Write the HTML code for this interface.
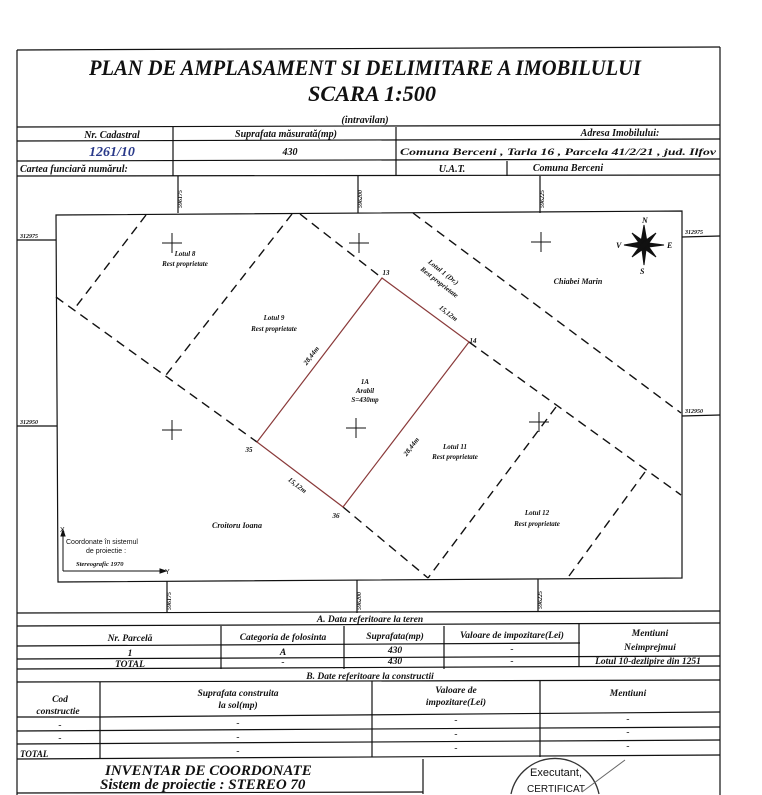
<!DOCTYPE html>
<html><head><meta charset="utf-8"><style>
html,body{margin:0;padding:0;background:#fff;width:762px;height:795px;overflow:hidden;}
svg{display:block;overflow:hidden;}
text{font-family:"Liberation Serif",serif;font-style:italic;font-weight:bold;fill:#111;}
.s{font-family:"Liberation Sans",sans-serif;font-style:normal;font-weight:normal;}
</style></head><body>
<svg width="762" height="795" viewBox="0 0 762 795" xmlns="http://www.w3.org/2000/svg">
<rect width="762" height="795" fill="#fff"/>
<g stroke="#111" stroke-width="1.2" fill="none">
<line x1="17" y1="50" x2="720" y2="47"/>
<line x1="17" y1="50" x2="17" y2="795"/>
<line x1="720" y1="47" x2="720" y2="795"/>
<line x1="17" y1="127" x2="720" y2="125"/>
<line x1="17" y1="141" x2="720" y2="139"/>
<line x1="17" y1="161" x2="720" y2="159"/>
<line x1="17" y1="176" x2="720" y2="175"/>
<line x1="173" y1="127" x2="173" y2="176"/>
<line x1="396" y1="127" x2="396" y2="176"/>
<line x1="507" y1="161" x2="507" y2="176"/>
<line x1="178" y1="176" x2="178" y2="213"/>
<line x1="358" y1="176" x2="358" y2="213"/>
<line x1="540" y1="176" x2="540" y2="213"/>
<polygon points="56,215 682,211 682,578 58,582"/>
<line x1="17" y1="240" x2="56" y2="240"/>
<line x1="17" y1="426" x2="57" y2="426"/>
<line x1="682" y1="237" x2="720" y2="236"/>
<line x1="682" y1="416" x2="720" y2="415"/>
<line x1="167" y1="581" x2="167" y2="613"/>
<line x1="357" y1="580" x2="357" y2="613"/>
<line x1="538" y1="579" x2="538" y2="612"/>
</g>
<g stroke="#111" stroke-width="1.4" fill="none" stroke-dasharray="9,6">
<line x1="146" y1="215" x2="75" y2="308"/>
<line x1="56" y1="297" x2="257" y2="442"/>
<line x1="343" y1="507" x2="428" y2="578"/>
<line x1="292" y1="214" x2="166" y2="375"/>
<line x1="300" y1="214" x2="382" y2="278"/>
<line x1="469" y1="342" x2="681" y2="495"/>
<line x1="413" y1="213" x2="681" y2="413"/>
<line x1="556" y1="407" x2="428" y2="578"/>
<line x1="645" y1="472" x2="569" y2="576"/>
</g>
<polygon points="382,278 469,342 343,507 257,442" fill="none" stroke="#8a3a3a" stroke-width="1.2"/>
<g stroke="#111" stroke-width="1">
<path d="M162 243h20M172 233v20"/><path d="M349 243h20M359 233v20"/><path d="M531 242h20M541 232v20"/>
<path d="M162 430h20M172 420v20"/><path d="M346 428h20M356 418v20"/><path d="M529 422h20M539 412v20"/>
</g>
<g fill="#111" stroke="#111" stroke-width="1">
<polygon points="644,225 647,242 644,265 641,242"/>
<polygon points="624,245 641,242 664,245 641,248"/>
<polygon points="632,233 646,243 656,257 642,247"/>
<polygon points="656,233 646,247 632,257 642,243"/>
</g>
<text x="642" y="223" font-size="8">N</text><text x="616" y="248" font-size="8">V</text><text x="667" y="248" font-size="8">E</text><text x="640" y="274" font-size="8">S</text>
<text x="365" y="75" font-size="22" text-anchor="middle" textLength="552" lengthAdjust="spacingAndGlyphs">PLAN DE AMPLASAMENT SI DELIMITARE A IMOBILULUI</text>
<text x="372" y="101" font-size="22" text-anchor="middle" textLength="128" lengthAdjust="spacingAndGlyphs">SCARA 1:500</text>
<text x="365" y="123" font-size="10" text-anchor="middle">(intravilan)</text>
<text x="112" y="138" font-size="10" text-anchor="middle">Nr. Cadastral</text>
<text x="286" y="137" font-size="10" text-anchor="middle">Suprafata măsurată(mp)</text>
<text x="620" y="136" font-size="10" text-anchor="middle">Adresa Imobilului:</text>
<text x="112" y="156" font-size="14" font-weight="normal" text-anchor="middle" style="fill:#2a3a8a">1261/10</text>
<text x="290" y="155" font-size="10" text-anchor="middle">430</text>
<text x="558" y="155" font-size="9.5" text-anchor="middle" textLength="316" lengthAdjust="spacingAndGlyphs">Comuna Berceni , Tarla 16 , Parcela 41/2/21 , jud. Ilfov</text>
<text x="20" y="172" font-size="10">Cartea funciară numărul:</text>
<text x="452" y="172" font-size="10" text-anchor="middle">U.A.T.</text>
<text x="568" y="171" font-size="10" text-anchor="middle">Comuna Berceni</text>
<g font-size="6">
<text transform="translate(182,208) rotate(-90)">596175</text>
<text transform="translate(362,208) rotate(-90)">596200</text>
<text transform="translate(544,208) rotate(-90)">596225</text>
<text transform="translate(171,610) rotate(-90)">596175</text>
<text transform="translate(361,610) rotate(-90)">596200</text>
<text transform="translate(542,609) rotate(-90)">596225</text>
<text x="20" y="238">312975</text><text x="20" y="424">312950</text>
<text x="685" y="234">312975</text><text x="685" y="413">312950</text>
</g>
<g font-size="7" text-anchor="middle">
<text x="185" y="256">Lotul 8</text><text x="185" y="266">Rest proprietate</text>
<text x="274" y="320">Lotul 9</text><text x="274" y="331">Rest proprietate</text>
<text x="365" y="384">1A</text><text x="365" y="393">Arabil</text><text x="365" y="402">S=430mp</text>
<text x="455" y="449">Lotul 11</text><text x="455" y="459">Rest proprietate</text>
<text x="537" y="515">Lotul 12</text><text x="537" y="526">Rest proprietate</text>
<text x="578" y="284" font-size="8">Chiabei Marin</text>
<text x="237" y="528" font-size="8">Croitoru Ioana</text>
<text transform="translate(442,274) rotate(38)">Lotul 1 (Dr.)</text>
<text transform="translate(438,284) rotate(38)">Rest proprietate</text>
<text transform="translate(447,315) rotate(38)">15,12m</text>
<text transform="translate(296,487) rotate(38)">15,12m</text>
<text transform="translate(313,357) rotate(-53)">28,44m</text>
<text transform="translate(413,448) rotate(-53)">28,44m</text>
<text x="386" y="275">13</text><text x="473" y="343">14</text><text x="249" y="452">35</text><text x="336" y="518">36</text>
</g>
<g stroke="#111" stroke-width="1" fill="#111">
<line x1="63" y1="534" x2="63" y2="571"/><line x1="63" y1="571" x2="162" y2="571"/>
<polygon points="63,530 61,536 65,536"/><polygon points="166,571 160,569 160,573"/>
</g>
<text x="60" y="532" class="s" font-size="7">X</text><text x="165" y="574" class="s" font-size="7">Y</text>
<text x="66" y="544" class="s" font-size="7">Coordonate în sistemul</text>
<text x="86" y="553" class="s" font-size="7">de proiectie :</text>
<text x="76" y="566" font-size="6.5">Stereografic 1970</text>
<g stroke="#111" stroke-width="1.2" fill="none">
<line x1="17" y1="613" x2="720" y2="611"/>
<line x1="17" y1="626" x2="720" y2="623"/>
<line x1="17" y1="646" x2="580" y2="643"/>
<line x1="17" y1="659" x2="720" y2="656"/>
<line x1="17" y1="669" x2="720" y2="666"/>
<line x1="17" y1="682" x2="720" y2="680"/>
<line x1="100" y1="717" x2="720" y2="712"/>
<line x1="17" y1="717" x2="100" y2="717"/>
<line x1="17" y1="731" x2="720" y2="727"/>
<line x1="17" y1="744" x2="720" y2="740"/>
<line x1="17" y1="759" x2="720" y2="755"/>
<line x1="221" y1="626" x2="221" y2="669"/>
<line x1="344" y1="626" x2="344" y2="669"/>
<line x1="444" y1="626" x2="444" y2="669"/>
<line x1="579" y1="623" x2="579" y2="666"/>
<line x1="100" y1="682" x2="100" y2="759"/>
<line x1="372" y1="681" x2="372" y2="757"/>
<line x1="540" y1="680" x2="540" y2="757"/>
<line x1="423" y1="759" x2="423" y2="794"/>
<line x1="17" y1="793" x2="423" y2="792"/>
</g>
<g font-size="9.5" text-anchor="middle">
<text x="370" y="622">A. Data referitoare la teren</text>
<text x="130" y="641">Nr. Parcelă</text><text x="283" y="640">Categoria de folosinta</text>
<text x="395" y="639">Suprafata(mp)</text><text x="512" y="638">Valoare de impozitare(Lei)</text>
<text x="650" y="636">Mentiuni</text>
<text x="130" y="656">1</text><text x="283" y="655">A</text><text x="395" y="653">430</text><text x="512" y="652">-</text>
<text x="650" y="650">Neimprejmui</text><text x="648" y="664">Lotul 10-dezlipire din 1251</text>
<text x="130" y="667">TOTAL</text><text x="283" y="665">-</text><text x="395" y="664">430</text><text x="512" y="664">-</text>
<text x="370" y="679">B. Date referitoare la constructii</text>
<text x="60" y="702">Cod</text><text x="58" y="714">constructie</text>
<text x="238" y="696">Suprafata construita</text><text x="238" y="708">la sol(mp)</text>
<text x="456" y="693">Valoare de</text><text x="456" y="705">impozitare(Lei)</text>
<text x="628" y="696">Mentiuni</text>
<text x="60" y="728">-</text><text x="238" y="726">-</text><text x="456" y="723">-</text><text x="628" y="722">-</text>
<text x="60" y="741">-</text><text x="238" y="740">-</text><text x="456" y="737">-</text><text x="628" y="735">-</text>
<text x="238" y="754">-</text><text x="456" y="751">-</text><text x="628" y="749">-</text>
</g>
<text x="20" y="757" font-size="9">TOTAL</text>
<text x="105" y="775" font-size="15" font-weight="normal">INVENTAR DE COORDONATE</text>
<text x="100" y="789" font-size="15" font-weight="normal">Sistem de proiectie : STEREO 70</text>
<path d="M511 794 A45 45 0 0 1 599 794" fill="none" stroke="#333" stroke-width="1.3"/>
<text x="556" y="776" class="s" font-size="11" text-anchor="middle">Executant,</text>
<text x="556" y="792" class="s" font-size="10" text-anchor="middle">CERTIFICAT</text>
<line x1="582" y1="792" x2="625" y2="760" stroke="#666" stroke-width="1"/>
</svg>
</body></html>
